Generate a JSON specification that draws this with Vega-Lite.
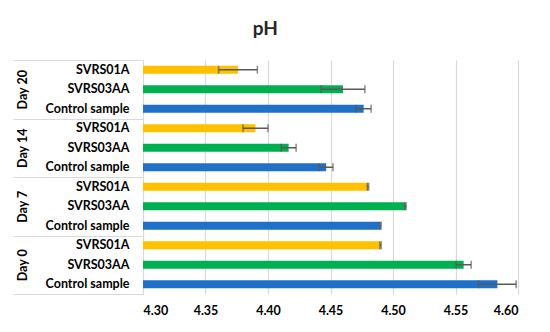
{
  "$schema": "https://vega.github.io/schema/vega-lite/v6.json",
  "width": 375,
  "height": 234,
  "padding": {"left": 12, "top": 19, "right": 10, "bottom": 10},
  "background": "white",
  "title": {"text": "pH", "font": "Lato", "fontSize": 19, "fontWeight": "bold", "color": "#262626", "offset": 21, "anchor": "middle", "frame": "bounds"},
  "config": {"view": {"stroke": null}},
  "data": {
    "values": [
      {"day": "Day 20", "sample": "SVRS01A", "key": "Day 20|SVRS01A", "value": 4.376, "lo": 4.3605, "hi": 4.3915},
      {"day": "Day 20", "sample": "SVRS03AA", "key": "Day 20|SVRS03AA", "value": 4.460, "lo": 4.4425, "hi": 4.4775},
      {"day": "Day 20", "sample": "Control sample", "key": "Day 20|Control sample", "value": 4.4765, "lo": 4.4705, "hi": 4.4825},
      {"day": "Day 14", "sample": "SVRS01A", "key": "Day 14|SVRS01A", "value": 4.390, "lo": 4.380, "hi": 4.400},
      {"day": "Day 14", "sample": "SVRS03AA", "key": "Day 14|SVRS03AA", "value": 4.4165, "lo": 4.4105, "hi": 4.4225},
      {"day": "Day 14", "sample": "Control sample", "key": "Day 14|Control sample", "value": 4.4465, "lo": 4.441, "hi": 4.452},
      {"day": "Day 7", "sample": "SVRS01A", "key": "Day 7|SVRS01A", "value": 4.480, "lo": 4.4795, "hi": 4.4805},
      {"day": "Day 7", "sample": "SVRS03AA", "key": "Day 7|SVRS03AA", "value": 4.510, "lo": 4.5095, "hi": 4.5105},
      {"day": "Day 7", "sample": "Control sample", "key": "Day 7|Control sample", "value": 4.490, "lo": 4.4895, "hi": 4.4905},
      {"day": "Day 0", "sample": "SVRS01A", "key": "Day 0|SVRS01A", "value": 4.490, "lo": 4.4895, "hi": 4.4905},
      {"day": "Day 0", "sample": "SVRS03AA", "key": "Day 0|SVRS03AA", "value": 4.5565, "lo": 4.5505, "hi": 4.5625},
      {"day": "Day 0", "sample": "Control sample", "key": "Day 0|Control sample", "value": 4.5835, "lo": 4.5685, "hi": 4.5985}
    ]
  },
  "layer": [
    {
      "mark": {"type": "tick", "opacity": 0},
      "encoding": {
        "y": {
          "field": "day", "type": "nominal",
          "sort": ["Day 20", "Day 14", "Day 7", "Day 0"],
          "scale": {"paddingInner": 0, "paddingOuter": 0},
          "axis": {
            "orient": "left", "title": null, "domain": false, "grid": false,
            "tickBand": "extent", "tickSize": 130, "tickColor": "#d9d9d9", "tickWidth": 1,
            "labelAngle": -90, "labelAlign": "center", "labelBaseline": "middle", "labelPadding": -9.5,
            "labelFont": "Lato", "labelFontSize": 12.5, "labelFontWeight": "bold", "labelColor": "#000000"
          }
        },
        "x": {"field": "value", "type": "quantitative", "scale": {"domain": [4.3, 4.6], "zero": false, "nice": false}}
      }
    },
    {
      "encoding": {
        "y": {
          "field": "key", "type": "nominal",
          "sort": ["Day 20|SVRS01A", "Day 20|SVRS03AA", "Day 20|Control sample", "Day 14|SVRS01A", "Day 14|SVRS03AA", "Day 14|Control sample", "Day 7|SVRS01A", "Day 7|SVRS03AA", "Day 7|Control sample", "Day 0|SVRS01A", "Day 0|SVRS03AA", "Day 0|Control sample"],
          "scale": {"paddingInner": 0, "paddingOuter": 0},
          "axis": {
            "orient": "left", "title": null, "ticks": false, "domain": true, "domainColor": "#d9d9d9", "grid": false,
            "labelPadding": 14, "labelExpr": "split(datum.label, '|')[1]",
            "labelFont": "Lato", "labelFontSize": 12.5, "labelFontWeight": "bold", "labelColor": "#000000"
          }
        }
      },
      "layer": [
        {
          "mark": {"type": "bar", "height": {"band": 0.42}},
          "encoding": {
            "x": {
              "field": "value", "type": "quantitative",
              "scale": {"domain": [4.3, 4.6], "zero": false, "nice": false},
              "axis": {
                "title": null, "values": [4.3, 4.35, 4.4, 4.45, 4.5, 4.55, 4.6], "format": ".2f",
                "domain": false, "ticks": false, "grid": true, "gridColor": "#d9d9d9", "gridWidth": 1.2,
                "labelPadding": 10, "labelFont": "Lato", "labelFontSize": 12.5, "labelFontWeight": "bold", "labelColor": "#000000"
              }
            },
            "x2": {"datum": 4.3},
            "color": {
              "field": "sample", "type": "nominal",
              "scale": {"domain": ["SVRS01A", "SVRS03AA", "Control sample"], "range": ["#FFC000", "#00B050", "#1E70C8"]},
              "legend": null
            }
          }
        },
        {
          "mark": {"type": "rule", "color": "#595959", "strokeWidth": 1.5},
          "encoding": {
            "x": {"field": "lo", "type": "quantitative"},
            "x2": {"field": "hi"}
          }
        },
        {
          "mark": {"type": "tick", "color": "#595959", "thickness": 1.5, "size": 8},
          "encoding": {"x": {"field": "lo", "type": "quantitative"}}
        },
        {
          "mark": {"type": "tick", "color": "#595959", "thickness": 1.5, "size": 8},
          "encoding": {"x": {"field": "hi", "type": "quantitative"}}
        }
      ]
    }
  ],
  "resolve": {"scale": {"y": "independent"}, "axis": {"y": "independent"}}
}
